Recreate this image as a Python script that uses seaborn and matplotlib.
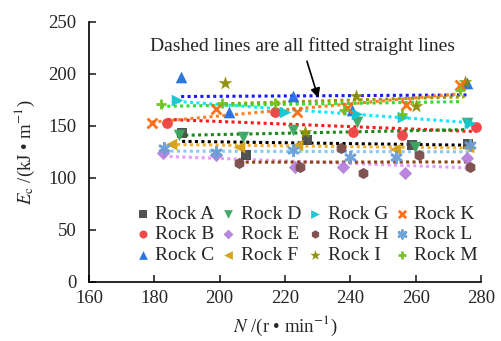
import numpy as np
import pandas as pd
import matplotlib
matplotlib.use("Agg")
import matplotlib.pyplot as plt
import seaborn as sns

rocks = ["Rock A", "Rock B", "Rock C", "Rock D", "Rock E", "Rock F",
         "Rock G", "Rock H", "Rock I", "Rock K", "Rock L", "Rock M"]

n_A = [188.5, 208, 226.7, 259, 276]
e_A = [143, 122, 137, 132, 133]
n_B = [184, 217, 240.8, 255.8, 278.5]
e_B = [153, 163, 144, 141, 149]
n_C = [188.2, 203, 222.4, 240.5, 275.7]
e_C = [197, 163, 179, 165, 191]
n_D = [187.5, 207, 222.4, 242, 259.8, 275.7]
e_D = [141, 139, 146, 154, 130, 153]
n_E = [182.7, 199, 223, 237.8, 256.7, 275.7]
e_E = [124, 122, 111, 111, 105, 119]
n_F = [185, 206, 223.6, 253.7, 276]
e_F = [133, 130, 132, 128, 130]
n_G = [187, 220, 242, 256, 276.6]
e_G = [175, 163, 162, 159, 153]
n_H = [206, 224.6, 237, 244, 261, 276.6]
e_H = [114, 111, 129, 105, 122, 111]
n_I = [201.6, 226, 241.7, 260, 275]
e_I = [191, 144, 179, 169, 192]
n_K = [179.3, 199, 223.7, 239, 257, 273.6]
e_K = [153, 166, 163, 167, 170, 189]
n_L = [183, 199, 222.4, 240, 254, 276.6]
e_L = [129, 125, 127, 120, 120, 132]
n_M = [182, 200.7, 217, 238, 255.8, 273.6]
e_M = [171, 172, 172, 165, 162, 185]

N_values = [n_A, n_B, n_C, n_D, n_E, n_F, n_G, n_H, n_I, n_K, n_L, n_M]
E_values = [e_A, e_B, e_C, e_D, e_E, e_F, e_G, e_H, e_I, e_K, e_L, e_M]

x_ticks = [160, 180, 200, 220, 240, 260, 280]
y_ticks = [0, 50, 100, 150, 200, 250]

# styles
marker_styles = ["s", "o", "^", "v", "D", "<", ">", "h", "*", "x", (6, 2, 0), "+"]
marker_colors = ["#4a4a4a", "#f04040", "#1f6fe0", "#3aa860", "#b57edc", "#d4a010",
                 "#10c8d0", "#7a4a4a", "#8c8c00", "#ff6a10", "#6a9fd8", "#70c020"]
line_colors = ["#000000", "#ff1a1a", "#1a1aff", "#1a8a1a", "#e59bff", "#f0b030",
               "#10e8ff", "#8b4513", "#9a9a00", "#ff8020", "#87c8f5", "#33dd33"]
marker_sizes = [50, 60, 70, 70, 45, 70, 70, 65, 110, 50, 55, 60]

sns.set_style("ticks")
plt.rcParams["font.family"] = ["Liberation Serif", "DejaVu Serif"]
plt.rcParams["mathtext.fontset"] = "stix"

fig = plt.figure(figsize=(5.02, 3.41), dpi=100)
ax = fig.add_axes([89 / 502, 1 - 282 / 341, (481 - 89) / 502, (282 - 22) / 341])

for i, rock in enumerate(rocks):
    df = pd.DataFrame({"N": N_values[i], "E": E_values[i]})
    sns.regplot(data=df, x="N", y="E", scatter=False, ci=None, ax=ax,
                line_kws=dict(color=line_colors[i], lw=2.2, ls=(0, (1, 1.1))))

for i, rock in enumerate(rocks):
    df = pd.DataFrame({"N": N_values[i], "E": E_values[i]})
    m = marker_styles[i]
    unfilled = m in ("x", "+") or isinstance(m, tuple)
    kw = dict(linewidth=2.0) if unfilled else dict(linewidth=0)
    sns.scatterplot(data=df, x="N", y="E", marker=m, color=marker_colors[i],
                    s=marker_sizes[i], ax=ax, label=rock, zorder=3, alpha=0.95, **kw)

ax.set_xlim(160, 280)
ax.set_ylim(0, 250)
ax.set_xticks(x_ticks)
ax.set_yticks(y_ticks)
ax.tick_params(direction="in", length=5, width=1.2, labelsize=13.5)
ax.tick_params(axis="y", pad=9)
ax.tick_params(axis="x", pad=6)
for s in ["top", "right"]:
    ax.spines[s].set_visible(False)
for s in ["left", "bottom"]:
    ax.spines[s].set_linewidth(1.2)
    ax.spines[s].set_color("black")

ax.set_xlabel(r"$N$ /(r • min$^{-1}$)", fontsize=13.5, labelpad=5)
ax.set_ylabel(r"$E_{\rm c}$ /(kJ • m$^{-1}$)", fontsize=13.5, labelpad=8)

ax.annotate("Dashed lines are all fitted straight lines", xy=(230.2, 177), xytext=(225.3, 218),
            ha="center", va="bottom", fontsize=14,
            arrowprops=dict(arrowstyle="-|>", color="black", lw=1.2, mutation_scale=14,
                            shrinkA=2, shrinkB=0))

handles, labels = ax.get_legend_handles_labels()
ax.legend(handles, labels, ncol=4, loc="lower left", bbox_to_anchor=(0.1, 0.04),
          frameon=False, fontsize=14, handlelength=0.7, handletextpad=0.3,
          columnspacing=0.35, labelspacing=0.15, borderaxespad=0, markerscale=0.75)

fig.savefig("out.png", dpi=100)
